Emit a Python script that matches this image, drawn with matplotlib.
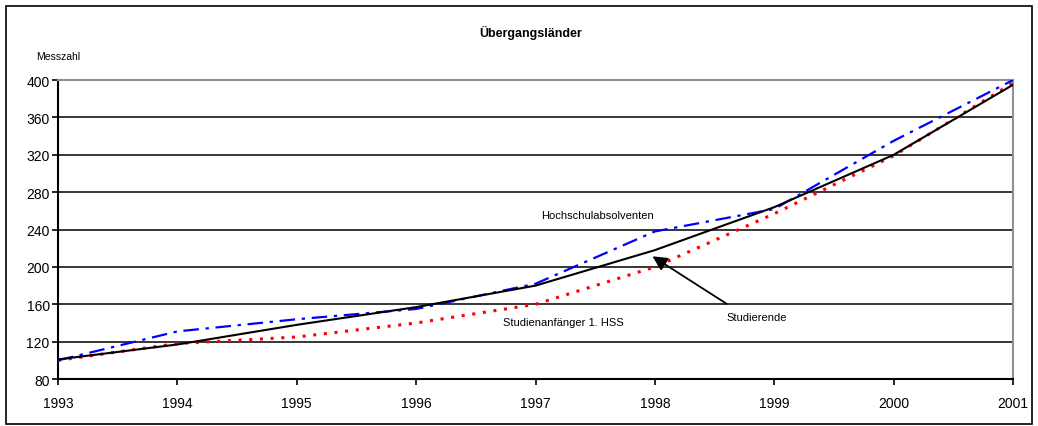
import matplotlib
matplotlib.use("Agg")
import matplotlib.pyplot as plt
from matplotlib.patches import Rectangle

plt.rcParams['font.family'] = ['Liberation Sans', 'DejaVu Sans']

years = [1993, 1994, 1995, 1996, 1997, 1998, 1999, 2000, 2001]
studierende = [101, 117, 138, 157, 180, 218, 264, 320, 395]
absolventen = [100, 131, 144, 155, 182, 238, 262, 335, 400]
anfaenger = [100, 118, 125, 140, 160, 200, 257, 319, 397]
y_ticks = [80, 120, 160, 200, 240, 280, 320, 360, 400]

fig = plt.figure(figsize=(10.38, 4.27), dpi=100)
ax = fig.add_axes([0.0559, 0.110, 0.92, 0.700])

# grid
for v in y_ticks[1:-1]:
    ax.axhline(v, color='black', lw=1.1, zorder=1)

ax.plot(years, anfaenger, color='red', lw=2.2, linestyle=(0, (1, 2.5)), zorder=3)
ax.plot(years, absolventen, color='blue', lw=1.6, linestyle=(0, (7, 3, 1.5, 3)), zorder=3)
ax.plot(years, studierende, color='black', lw=1.5, zorder=4)

ax.set_xlim(1993, 2001)
ax.set_ylim(80, 400)
ax.set_xticks(years)
ax.set_yticks(y_ticks)
ax.tick_params(axis='both', labelsize=10, direction='out', length=4, width=1.2)
ax.tick_params(axis='x', pad=8)
ax.tick_params(axis='y', pad=2)
ax.spines['left'].set_linewidth(1.5)
ax.spines['bottom'].set_linewidth(1.5)
ax.spines['top'].set_color('#909090')
ax.spines['right'].set_color('#909090')
ax.spines['top'].set_linewidth(1.5)
ax.spines['right'].set_linewidth(1.5)

ax.text(1997.52, 256, 'Hochschulabsolventen', fontsize=8, ha='center', va='center')
ax.text(1997.23, 141, 'Studienanfänger 1. HSS', fontsize=8, ha='center', va='center')
ax.annotate('', xy=(1997.96, 213), xytext=(1998.62, 159),
            arrowprops=dict(arrowstyle='-|>', color='black', lw=1.3, mutation_scale=22))
ax.text(1998.85, 146, 'Studierende', fontsize=8, ha='center', va='center')

fig.text(531 / 1038, 1 - 33 / 427, 'Übergangsländer', fontsize=9, fontweight='bold',
         ha='center', va='center')
fig.text(36 / 1038, 1 - 57 / 427, 'Messzahl', fontsize=7.5, ha='left', va='center')

fig.patches.append(Rectangle((6 / 1038, 2 / 427), 1026 / 1038, 418 / 427,
                             transform=fig.transFigure, fill=False,
                             edgecolor='black', lw=1.2))

fig.savefig('out.png', dpi=100)
